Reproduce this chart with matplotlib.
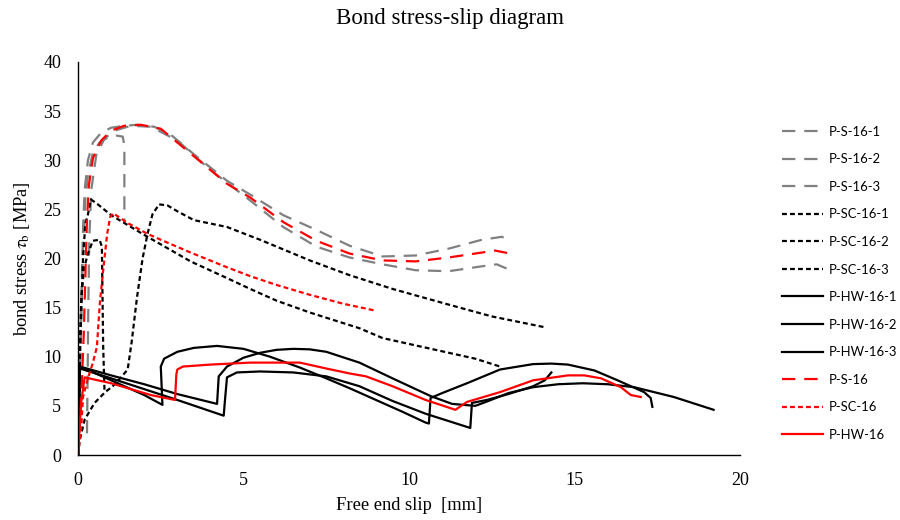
import numpy as np
import matplotlib
matplotlib.use('Agg')
import matplotlib.pyplot as plt

# bond stress [MPa] vs free end slip [mm]

# P-S series (gray long dash + red average)
ps1_x = [0, 0.05, 0.1, 0.15, 0.22, 0.3, 0.45, 0.65, 0.9, 1.15, 1.35, 1.4, 1.4, 1.4]
ps1_y = [0, 6, 14, 21, 26, 28.5, 30.8, 31.8, 32.3, 32.5, 32.4, 31.5, 27.0, 23.6]
ps2_x = [0, 0.05, 0.1, 0.15, 0.2, 0.3, 0.45, 0.7, 1.0, 1.4, 1.8, 2.3, 2.8, 3.5, 4.5, 5.2, 6.2, 7.2, 8.2,
         9.2, 10.2, 11.2, 12.2, 12.8, 12.95]
ps2_y = [0, 8, 16, 23, 27, 30, 31.8, 32.8, 33.3, 33.5, 33.6, 33.4, 32.6, 30.6, 27.9, 26.5, 24.4, 22.9, 21.3,
         20.2, 20.3, 21.0, 21.9, 22.2, 22.0]
ps3_x = [0.27, 0.29, 0.31, 0.34, 0.4, 0.55, 0.8, 1.1, 1.6, 2.2, 3.0, 4.0, 5.2, 6.2, 7.2, 8.2, 9.2, 10.2,
         11.2, 12.2, 12.65, 13.0]
ps3_y = [2.2, 8, 15, 22, 27, 30.5, 32.2, 33.0, 33.5, 33.4, 32.0, 29.0, 25.9, 23.2, 21.2, 20.1, 19.4, 18.8,
         18.7, 19.2, 19.4, 18.9]
ps_avg_x = [0, 0.1, 0.17, 0.22, 0.27, 0.33, 0.45, 0.7, 1.0, 1.4, 1.9, 2.5, 3.5, 4.5, 5.2, 6.2, 7.2, 8.2,
            9.2, 10.2, 11.2, 12.2, 12.6, 13.05]
ps_avg_y = [0, 6, 12, 18, 24, 27.5, 30.2, 32.0, 33.0, 33.5, 33.6, 33.2, 30.4, 27.6, 26.2, 23.7, 21.8, 20.5,
            19.8, 19.7, 20.1, 20.6, 20.8, 20.5]

# P-SC series (black short dash + red average)
sc1_x = [0, 0.05, 0.2, 0.5, 0.82, 1.05, 1.3, 1.5, 1.62, 1.78, 1.95, 2.1, 2.25, 2.45, 2.7, 3.0, 3.5, 4.5,
         5.5, 7.0, 8.2, 9.5, 11.2, 12.5, 14.1]
sc1_y = [0, 1.5, 3.6, 5.3, 6.4, 7.0, 7.9, 8.7, 11.5, 16.0, 20.0, 22.5, 24.5, 25.5, 25.4, 24.8, 23.9, 23.2,
         21.9, 19.8, 18.3, 16.9, 15.3, 14.1, 13.0]
sc2_x = [0, 0.03, 0.06, 0.1, 0.18, 0.3, 0.45, 0.65, 0.72, 0.74, 0.76, 0.8]
sc2_y = [0, 6, 12, 16, 19, 20.5, 21.8, 21.9, 21.2, 16, 11, 6.5]
sc3_x = [0, 0.03, 0.06, 0.1, 0.15, 0.22, 0.3, 0.39, 0.6, 1.0, 1.5, 2.1, 3.4, 4.5, 5.2, 6.0, 7.0, 8.5, 9.2,
         10.0, 11.2, 12.0, 12.75]
sc3_y = [0, 5, 10, 15, 20, 23.5, 24.5, 26.0, 25.5, 24.4, 23.4, 22.2, 19.7, 18.0, 16.9, 15.7, 14.5, 12.9,
         11.9, 11.3, 10.4, 9.8, 9.0]
sc_avg_x = [0, 0.1, 0.15, 0.3, 0.45, 0.57, 0.66, 0.75, 0.88, 0.97, 1.06, 1.5, 2.1, 2.5, 3.4, 4.5, 5.2,
            6.0, 7.0, 8.0, 8.97]
sc_avg_y = [0, 3, 5.9, 7.8, 9.4, 11.0, 15.5, 18.5, 22.5, 24.2, 24.6, 23.6, 22.5, 21.9, 20.6, 19.1, 18.2,
            17.3, 16.3, 15.4, 14.7]

# P-HW series (black solid + red average)
hw1_x = [0, 0.03, 0.06, 1.0, 2.0, 2.55, 2.5, 2.6, 3.0, 3.5, 4.2, 5.0, 5.8, 6.7, 7.5, 8.2, 9.0, 9.8, 10.5,
         10.6, 10.65, 11.0, 11.75, 12.75, 13.75, 14.3, 14.8, 15.6, 16.3, 17.1, 17.3, 17.35]
hw1_y = [0, 5, 9.0, 7.6, 6.1, 5.1, 9.0, 9.8, 10.5, 10.9, 11.1, 10.8, 10.0, 8.9, 7.8, 6.8, 5.6, 4.4, 3.3,
         3.2, 5.8, 6.3, 7.3, 8.7, 9.25, 9.3, 9.2, 8.6, 7.6, 6.4, 5.8, 4.9]
hw2_x = [0, 0.03, 0.06, 1.0, 2.0, 3.0, 4.2, 4.25, 4.5, 5.0, 5.5, 6.0, 6.5, 7.0, 7.5, 8.5, 9.5, 10.65, 11.3,
         12.0, 12.4, 13.0, 13.75, 14.5, 15.25, 16.0, 16.8, 18.0, 19.2]
hw2_y = [0, 5, 9.0, 8.1, 7.2, 6.2, 5.2, 8.0, 9.0, 9.9, 10.4, 10.7, 10.8, 10.75, 10.5, 9.4, 7.8, 6.0, 5.2,
         5.0, 5.5, 6.3, 6.9, 7.2, 7.3, 7.2, 6.9, 5.9, 4.6]
hw3_x = [0, 0.03, 0.06, 1.0, 2.0, 3.0, 4.4, 4.45, 4.5, 4.8, 5.5, 6.5, 7.5, 8.5, 9.5, 10.5, 11.85, 11.9,
         12.35, 13.0, 13.75, 14.1, 14.3]
hw3_y = [0, 5, 8.8, 7.8, 6.7, 5.6, 4.0, 6.0, 7.9, 8.4, 8.5, 8.4, 8.0, 7.0, 5.5, 4.2, 2.75, 5.3,
         5.6, 6.2, 7.0, 7.6, 8.4]
hw_avg_x = [0, 0.05, 0.1, 0.2, 1.0, 2.2, 2.93, 2.97, 3.0, 3.17, 4.0, 5.2, 6.7, 7.5, 8.2, 8.7, 9.5, 10.5,
            11.4, 11.75, 12.75, 13.75, 14.8, 15.3, 15.8, 16.4, 16.7, 17.0]
hw_avg_y = [0, 3, 5.5, 7.9, 7.3, 6.1, 5.6, 8.2, 8.7, 9.0, 9.2, 9.4, 9.4, 8.8, 8.3, 8.0, 7.0, 5.6,
            4.6, 5.4, 6.4, 7.6, 8.1, 8.1, 7.8, 6.9, 6.1, 5.9]

x_ticks = [0, 5, 10, 15, 20]
y_ticks = [0, 5, 10, 15, 20, 25, 30, 35, 40]

plt.rcParams['font.family'] = ['Liberation Serif', 'DejaVu Serif']
plt.rcParams['mathtext.fontset'] = 'stix'

fig = plt.figure(figsize=(9, 5.2), dpi=100)
ax = fig.add_axes([0.0867, 0.125, 0.7356, 0.756])

lw = 1.6
long_dash = (0, (6, 4))
short_dash = (0, (2.2, 1.4))
gray = '#808080'
red = '#ff0000'

ax.plot(ps1_x, ps1_y, color=gray, lw=lw, linestyle=long_dash, label='P-S-16-1')
ax.plot(ps2_x, ps2_y, color=gray, lw=lw, linestyle=long_dash, label='P-S-16-2')
ax.plot(ps3_x, ps3_y, color=gray, lw=lw, linestyle=long_dash, label='P-S-16-3')
ax.plot(sc1_x, sc1_y, color='black', lw=lw, linestyle=short_dash, label='P-SC-16-1')
ax.plot(sc2_x, sc2_y, color='black', lw=lw, linestyle=short_dash, label='P-SC-16-2')
ax.plot(sc3_x, sc3_y, color='black', lw=lw, linestyle=short_dash, label='P-SC-16-3')
ax.plot(hw1_x, hw1_y, color='black', lw=lw, label='P-HW-16-1')
ax.plot(hw2_x, hw2_y, color='black', lw=lw, label='P-HW-16-2')
ax.plot(hw3_x, hw3_y, color='black', lw=lw, label='P-HW-16-3')
ax.plot(ps_avg_x, ps_avg_y, color=red, lw=lw, linestyle=long_dash, label='P-S-16')
ax.plot(sc_avg_x, sc_avg_y, color=red, lw=lw, linestyle=short_dash, label='P-SC-16')
ax.plot(hw_avg_x, hw_avg_y, color=red, lw=lw, label='P-HW-16')

ax.set_xlim(0, 20)
ax.set_ylim(0, 40)
ax.set_xticks(x_ticks)
ax.set_yticks(y_ticks)
ax.tick_params(length=0, labelsize=13, pad=12)
ax.spines['top'].set_visible(False)
ax.spines['right'].set_visible(False)
ax.spines['left'].set_linewidth(1.0)
ax.spines['bottom'].set_linewidth(1.0)

fig.text(0.5, 0.965, 'Bond stress-slip diagram', fontsize=16.5, ha='center', va='center')
ax.set_xlabel('Free end slip  [mm]', fontsize=13.3, labelpad=6)
ax.set_ylabel('bond stress $\\tau_{\\rm b}$ [MPa]', fontsize=13.3, labelpad=8)

fig.legend(loc='upper left', bbox_to_anchor=(0.869, 0.758), frameon=False,
           prop={'family': 'Lato', 'size': 9.4}, handlelength=3.1, handletextpad=0.5,
           labelspacing=1.19, borderpad=0, borderaxespad=0)

plt.savefig('out.png', dpi=100)
